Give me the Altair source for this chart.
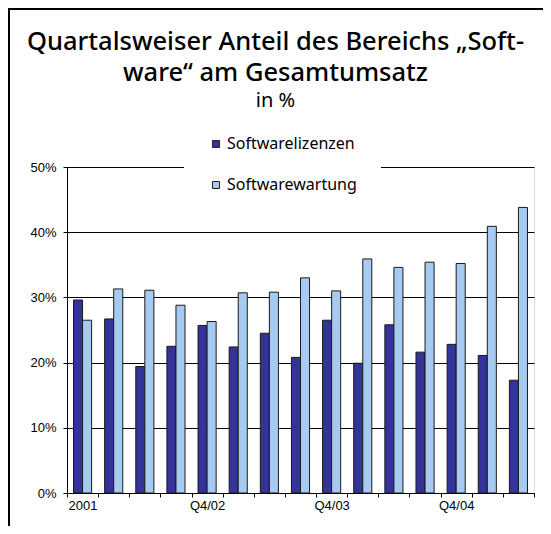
import altair as alt
import pandas as pd

quartale = ["2001", "Q1/02", "Q2/02", "Q3/02", "Q4/02", "Q1/03", "Q2/03", "Q3/03",
            "Q4/03", "Q1/04", "Q2/04", "Q3/04", "Q4/04", "Q1/05", "Q2/05"]
lizenzen = [29.6, 26.7, 19.4, 22.5, 25.7, 22.4, 24.5, 20.8, 26.5, 19.9, 25.8, 21.6, 22.8, 21.1, 17.3]
wartung = [26.5, 31.3, 31.1, 28.8, 26.3, 30.7, 30.8, 33.0, 31.0, 35.9, 34.6, 35.4, 35.2, 40.9, 43.8]
serien = ["Softwarelizenzen", "Softwarewartung"]
farben = ["#333399", "#A6CAF0"]
beschriftet = ["2001", "Q4/02", "Q4/03", "Q4/04"]
y_werte = [0, 0.1, 0.2, 0.3, 0.4, 0.5]

rows = []
for q, a, b in zip(quartale, lizenzen, wartung):
    rows.append({"Quartal": q, "Serie": serien[0], "Anteil": a / 100})
    rows.append({"Quartal": q, "Serie": serien[1], "Anteil": b / 100})
df = pd.DataFrame(rows)

label_expr = "indexof(" + str(beschriftet) + ", datum.value) >= 0 ? datum.value : ''"

bars = alt.Chart(df).mark_bar(stroke="#1a1a1a", strokeWidth=1).encode(
    x=alt.X("Quartal:N", sort=quartale,
            scale=alt.Scale(paddingInner=0, paddingOuter=0),
            axis=alt.Axis(title=None, labelAngle=0, tickBand="extent", labelExpr=label_expr,
                          domainColor="black", tickColor="black", tickSize=4,
                          labelFont="Liberation Sans", labelFontSize=13, labelColor="black",
                          labelPadding=2, grid=False)),
    xOffset=alt.XOffset("Serie:N", sort=serien,
                        scale=alt.Scale(paddingInner=0, paddingOuter=0.72)),
    y=alt.Y("Anteil:Q", scale=alt.Scale(domain=[0, 0.5]),
            axis=alt.Axis(title=None, values=y_werte, format=".0%", grid=True,
                          gridColor="black", domainColor="black", tickColor="black",
                          tickSize=4, labelFont="Liberation Sans", labelFontSize=13,
                          labelColor="black", labelPadding=7)),
    color=alt.Color("Serie:N", sort=serien,
                    scale=alt.Scale(domain=serien, range=farben),
                    legend=alt.Legend(title=None, orient="none", legendX=117, legendY=-55,
                                      fillColor="white", padding=24, rowPadding=25,
                                      symbolType="square", symbolSize=49,
                                      symbolStrokeColor="#222", symbolStrokeWidth=1,
                                      labelFont="Noto Sans", labelFontSize=16,
                                      labelColor="black", labelOffset=3)),
)

frame_df = pd.DataFrame({"d": [0]})
top_line = alt.Chart(frame_df).mark_rule(color="black", strokeWidth=2, clip=False).encode(
    x=alt.value(-59), x2=alt.value(476), y=alt.value(-158))
left_line = alt.Chart(frame_df).mark_rule(color="black", strokeWidth=2, clip=False).encode(
    x=alt.value(-58), y=alt.value(-159), y2=alt.value(359))

chart = alt.layer(bars, top_line, left_line).properties(
    width=467, height=326,
    autosize="none",
    padding={"left": 59, "top": 159, "right": 9, "bottom": 33},
    title=alt.TitleParams(
        text=["Quartalsweiser Anteil des Bereichs \u201eSoft-", "ware\u201c am Gesamtumsatz"],
        subtitle="in %",
        font="Noto Sans", fontSize=25.5, fontWeight=500, lineHeight=31, color="black",
        subtitleFont="Noto Sans", subtitleFontSize=20, subtitleColor="black",
        subtitlePadding=5, anchor="middle", frame="group", dx=-25, offset=0, dy=104),
).configure_view(stroke="black", strokeWidth=1).configure(background="white")

chart.save("out.html", embed_options={"renderer": "svg", "actions": False})
